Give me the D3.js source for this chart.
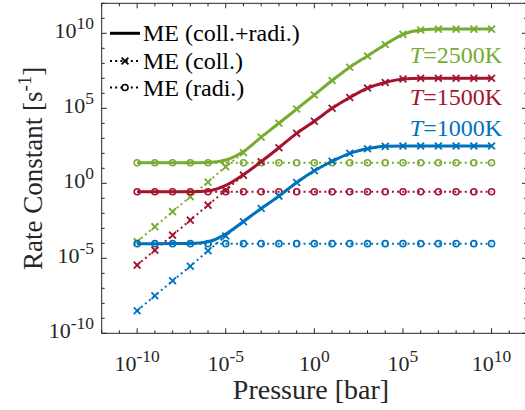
<!DOCTYPE html>
<html>
<head>
<meta charset="utf-8">
<script src="https://cdn.jsdelivr.net/npm/d3@7"></script>
<style>
  html, body { margin: 0; padding: 0; background: #fff; }
  svg { display: block; }
  text { font-family: "Liberation Serif", "Times New Roman", serif; fill: #262626; }
</style>
</head>
<body>
<svg id="chart" width="525" height="410"></svg>
<script>
// ---------------- data ----------------
const pressure = [1e-10, 1e-9, 1e-8, 1e-7, 1e-6, 1e-5, 1e-4, 1e-3, 1e-2, 1e-1, 1e0,
                  1e1, 1e2, 1e3, 1e4, 1e5, 1e6, 1e7, 1e8, 1e9, 1e10];

const temperatures = ["2500K", "1500K", "1000K"];

// T = 1000 K
const coll1000  = [3.2e-9, 3.2e-8, 3.2e-7, 2.95e-6, 3.2e-5, 3.1e-4, 2.75e-3, 2.1e-2, 0.14, 1.12, 6.8,
                   29.5, 100, 200, 290, 310, 310, 310, 310, 310, 310];
const radi1000  = [9.5e-5, 9.5e-5, 9.5e-5, 9.5e-5, 9.5e-5, 9.5e-5, 9.5e-5, 9.5e-5, 9.5e-5, 9.5e-5, 9.5e-5,
                   9.5e-5, 9.5e-5, 9.5e-5, 9.5e-5, 9.5e-5, 9.5e-5, 9.5e-5, 9.5e-5, 9.5e-5, 9.5e-5];
const total1000 = [9.5e-5, 9.5e-5, 9.6e-5, 9.8e-5, 1.26e-4, 4.1e-4, 2.85e-3, 2.1e-2, 0.14, 1.12, 6.8,
                   29.5, 100, 200, 290, 310, 310, 310, 310, 310, 310];

// T = 1500 K
const coll1500  = [3.5e-6, 3.5e-5, 3.5e-4, 3.5e-3, 3.5e-2, 0.35, 3.5, 27.5, 234, 2140, 1.38e4,
                   1.0e5, 5.25e5, 2.24e6, 5.25e6, 8.9e6, 1.0e7, 1.0e7, 1.0e7, 1.0e7, 1.0e7];
const radi1500  = [0.275, 0.275, 0.275, 0.275, 0.275, 0.275, 0.275, 0.275, 0.275, 0.275, 0.275,
                   0.275, 0.275, 0.275, 0.275, 0.275, 0.275, 0.275, 0.275, 0.275, 0.275];
const total1500 = [0.275, 0.275, 0.275, 0.278, 0.31, 0.72, 3.8, 27.8, 234, 2140, 1.38e4,
                   1.0e5, 5.25e5, 2.24e6, 5.25e6, 8.9e6, 1.0e7, 1.0e7, 1.0e7, 1.0e7, 1.0e7];

// T = 2500 K
const coll2500  = [1.29e-4, 1.29e-3, 1.29e-2, 0.129, 1.2, 12.9, 110, 1175, 1.0e4, 8.9e4, 7.8e5,
                   7.1e6, 5.5e7, 3.1e8, 1.78e9, 8.5e9, 1.66e10, 1.9e10, 1.9e10, 1.9e10, 1.9e10];
const radi2500  = [23.4, 23.4, 23.4, 23.4, 23.4, 23.4, 23.4, 23.4, 23.4, 23.4, 23.4,
                   23.4, 23.4, 23.4, 23.4, 23.4, 23.4, 23.4, 23.4, 23.4, 23.4];
const total2500 = [23.4, 23.4, 23.4, 23.5, 24.5, 36, 132, 1200, 1.0e4, 8.9e4, 7.8e5,
                   7.1e6, 5.5e7, 3.1e8, 1.78e9, 8.5e9, 1.66e10, 1.9e10, 1.9e10, 1.9e10, 1.9e10];

const xMajorExp = [-10, -5, 0, 5, 10];
const yMajorExp = [-10, -5, 0, 5, 10];
const legendLabels = ["ME (coll.+radi.)", "ME (coll.)", "ME (radi.)"];

// ---------------- layout ----------------
const svg = d3.select("#chart");
const X0 = 101.7, X1 = 527, Y0 = 3.3, Y1 = 333.3;
const x = d3.scaleLog().domain([1e-12, 1e12]).range([X0, X1]);
const y = d3.scaleLog().domain([1e-10, 1e12]).range([Y1, Y0]);

const colors = { "2500K": "#77AC30", "1500K": "#A2142F", "1000K": "#0072BD" };
const seriesSets = [
  { T: "2500K", coll: coll2500, radi: radi2500, total: total2500 },
  { T: "1500K", coll: coll1500, radi: radi1500, total: total1500 },
  { T: "1000K", coll: coll1000, radi: radi1000, total: total1000 }
];

const lineGen = d3.line().x(d => x(d[0])).y(d => y(d[1]));
const smoothGen = d3.line().x(d => x(d[0])).y(d => y(d[1])).curve(d3.curveMonotoneX);

const plot = svg.append("g");

function crossPath(s) { return `M${-s},${-s}L${s},${s}M${-s},${s}L${s},${-s}`; }

// dotted lines
seriesSets.forEach(S => {
  const c = colors[S.T];
  ["coll", "radi"].forEach(k => {
    plot.append("path")
      .datum(pressure.map((p, i) => [p, S[k][i]]))
      .attr("d", lineGen)
      .attr("fill", "none").attr("stroke", c).attr("stroke-width", 2)
      .attr("stroke-dasharray", "2,3.2");
  });
});
// markers
seriesSets.forEach(S => {
  const c = colors[S.T];
  plot.append("g").selectAll("path").data(pressure.map((p, i) => [p, S.coll[i]]))
    .join("path")
    .attr("transform", d => `translate(${x(d[0])},${y(d[1])})`)
    .attr("d", crossPath(3.4))
    .attr("fill", "none").attr("stroke", c).attr("stroke-width", 1.8);
  plot.append("g").selectAll("circle").data(pressure.map((p, i) => [p, S.radi[i]]))
    .join("circle")
    .attr("cx", d => x(d[0])).attr("cy", d => y(d[1])).attr("r", 3)
    .attr("fill", "none").attr("stroke", c).attr("stroke-width", 1.6);
});
// solid lines
seriesSets.forEach(S => {
  plot.append("path")
    .datum(pressure.map((p, i) => [p, S.total[i]]))
    .attr("d", smoothGen)
    .attr("fill", "none").attr("stroke", colors[S.T]).attr("stroke-width", 3)
    .attr("stroke-linejoin", "round");
});

// ---------------- axes ----------------
const axisColor = "#262626";
const ax = svg.append("g").attr("stroke", axisColor).attr("stroke-width", 1);
ax.append("rect").attr("x", X0).attr("y", Y0).attr("width", X1 - X0).attr("height", Y1 - Y0)
  .attr("fill", "none");

const xAllExp = d3.range(-12, 13);
const yAllExp = d3.range(-10, 13);
xAllExp.forEach(e => {
  const L = xMajorExp.includes(e) ? 5 : 3;
  const px = x(Math.pow(10, e));
  ax.append("line").attr("x1", px).attr("x2", px).attr("y1", Y1).attr("y2", Y1 - L);
  ax.append("line").attr("x1", px).attr("x2", px).attr("y1", Y0).attr("y2", Y0 + L);
});
yAllExp.forEach(e => {
  const L = yMajorExp.includes(e) ? 5 : 3;
  const py = y(Math.pow(10, e));
  ax.append("line").attr("x1", X0).attr("x2", X0 + L).attr("y1", py).attr("y2", py);
  ax.append("line").attr("x1", X1).attr("x2", X1 - L).attr("y1", py).attr("y2", py);
});

const baseFS = 22, supFS = 17.5;
xMajorExp.forEach(e => {
  const t = svg.append("text").attr("x", x(Math.pow(10, e))).attr("y", 371)
    .attr("text-anchor", "middle").style("font-size", baseFS + "px");
  t.append("tspan").text("10");
  t.append("tspan").attr("dy", -9).style("font-size", supFS + "px").text(String(e));
});
yMajorExp.forEach(e => {
  const t = svg.append("text").attr("x", 94).attr("y", y(Math.pow(10, e)) + 5)
    .attr("text-anchor", "end").style("font-size", baseFS + "px");
  t.append("tspan").text("10");
  t.append("tspan").attr("dy", -9).style("font-size", supFS + "px").text(String(e));
});

// axis labels
svg.append("text").attr("x", 311).attr("y", 399).attr("text-anchor", "middle")
  .style("font-size", "28px").text("Pressure [bar]");
const yl = svg.append("text").attr("transform", `translate(42,${(Y0 + Y1) / 2}) rotate(-90)`)
  .attr("text-anchor", "middle").style("font-size", "27px");
yl.append("tspan").text("Rate Constant [s");
yl.append("tspan").attr("dy", -11).style("font-size", "19px").text("-1");
yl.append("tspan").attr("dy", 11).text("]");

// temperature labels
const tY = { "2500K": 62.7, "1500K": 105, "1000K": 136 };
temperatures.forEach(T => {
  const t = svg.append("text").attr("x", 502).attr("y", tY[T]).attr("text-anchor", "end")
    .style("font-size", "24px");
  t.append("tspan").style("font-style", "italic").style("fill", colors[T]).text("T");
  t.append("tspan").style("fill", colors[T]).text("=" + T);
});

// legend
const lg = svg.append("g");
const rows = [33.3, 61, 87.5];
legendLabels.forEach((lab, i) => {
  const ry = rows[i];
  if (i === 0) {
    lg.append("line").attr("x1", 110).attr("x2", 140).attr("y1", ry).attr("y2", ry)
      .attr("stroke", "#000").attr("stroke-width", 3);
  } else {
    lg.append("line").attr("x1", 110).attr("x2", 140).attr("y1", ry).attr("y2", ry)
      .attr("stroke", "#000").attr("stroke-width", 2).attr("stroke-dasharray", "2,3.2");
    if (i === 1) {
      lg.append("path").attr("transform", `translate(125,${ry})`).attr("d", crossPath(3.4))
        .attr("fill", "none").attr("stroke", "#000").attr("stroke-width", 1.8);
    } else {
      lg.append("circle").attr("cx", 125).attr("cy", ry).attr("r", 3)
        .attr("fill", "#fff").attr("stroke", "#000").attr("stroke-width", 1.6);
    }
  }
  lg.append("text").attr("x", 143).attr("y", ry + 8).style("font-size", "24px")
    .style("fill", "#000").text(lab);
});
</script>
</body>
</html>
